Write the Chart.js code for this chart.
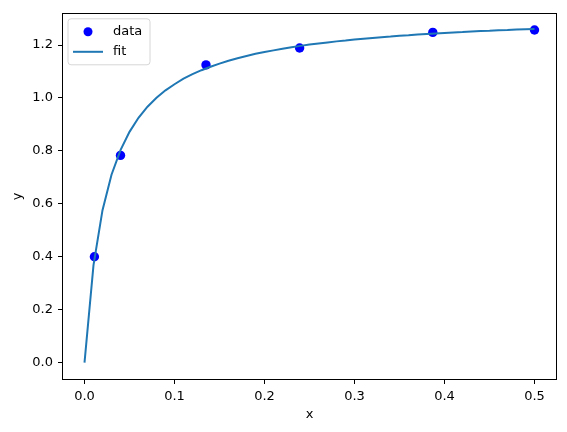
<!DOCTYPE html>
<html>
<head>
<meta charset="utf-8">
<script src="https://cdn.jsdelivr.net/npm/chart.js@4.4.0/dist/chart.umd.min.js"></script>
<style>
  html, body { margin: 0; padding: 0; background: #fff; }
  #wrap { width: 567px; height: 432px; }
</style>
</head>
<body>
<div id="wrap"><canvas id="chart"></canvas></div>
<script>
// measured points
const dataX = [0.011, 0.040, 0.135, 0.239, 0.387, 0.500];
const dataY = [0.400, 0.783, 1.125, 1.189, 1.248, 1.257];

// fitted curve, every 0.01
const fitX = [0.00, 0.01, 0.02, 0.03, 0.04, 0.05, 0.06, 0.07, 0.08, 0.09,
              0.10, 0.11, 0.12, 0.13, 0.14, 0.15, 0.16, 0.17, 0.18, 0.19,
              0.20, 0.21, 0.22, 0.23, 0.24, 0.25, 0.26, 0.27, 0.28, 0.29,
              0.30, 0.31, 0.32, 0.33, 0.34, 0.35, 0.36, 0.37, 0.38, 0.39,
              0.40, 0.41, 0.42, 0.43, 0.44, 0.45, 0.46, 0.47, 0.48, 0.49, 0.50];
const fitY = [0.000, 0.368, 0.576, 0.710, 0.803, 0.872, 0.925, 0.967, 1.001, 1.029,
              1.052, 1.073, 1.090, 1.105, 1.118, 1.130, 1.141, 1.150, 1.159, 1.167,
              1.174, 1.180, 1.186, 1.192, 1.197, 1.202, 1.206, 1.210, 1.214, 1.217,
              1.221, 1.224, 1.227, 1.230, 1.232, 1.235, 1.237, 1.240, 1.242, 1.244,
              1.246, 1.248, 1.249, 1.251, 1.253, 1.254, 1.256, 1.257, 1.259, 1.260, 1.261];

const xTicks = [0.0, 0.1, 0.2, 0.3, 0.4, 0.5];
const yTicks = [0.0, 0.2, 0.4, 0.6, 0.8, 1.0, 1.2];

const FONT = 'DejaVu Sans';
const FSIZE = 13;
const DOT = '#0000ff';
const LINE = '#1f77b4';

// Box around the plot area + matplotlib-like legend in upper left
const framePlugin = {
  id: 'frame',
  afterDraw(chart) {
    const { ctx, chartArea: a } = chart;
    ctx.save();
    ctx.strokeStyle = '#000';
    ctx.lineWidth = 1;
    const l = Math.round(a.left) + 0.5, t = Math.round(a.top) + 0.5;
    const rr = Math.round(a.right) - 0.5, b = Math.round(a.bottom) - 0.5;
    ctx.strokeRect(l, t, rr - l, b - t);

    // legend box
    const bx = a.left + 6, by = a.top + 6, bw = 82, bh = 46, r = 3;
    ctx.beginPath();
    ctx.moveTo(bx + r, by);
    ctx.arcTo(bx + bw, by, bx + bw, by + bh, r);
    ctx.arcTo(bx + bw, by + bh, bx, by + bh, r);
    ctx.arcTo(bx, by + bh, bx, by, r);
    ctx.arcTo(bx, by, bx + bw, by, r);
    ctx.closePath();
    ctx.fillStyle = 'rgba(255,255,255,0.8)';
    ctx.fill();
    ctx.strokeStyle = '#d6d6d6';
    ctx.stroke();

    ctx.fillStyle = DOT;
    ctx.beginPath();
    ctx.arc(bx + 20, by + 13, 4.5, 0, Math.PI * 2);
    ctx.fill();

    ctx.strokeStyle = LINE;
    ctx.lineWidth = 2;
    ctx.beginPath();
    ctx.moveTo(bx + 5, by + 33);
    ctx.lineTo(bx + 35, by + 33);
    ctx.stroke();

    ctx.fillStyle = '#000';
    ctx.font = FSIZE + 'px ' + FONT;
    ctx.textBaseline = 'middle';
    ctx.fillText('data', bx + 45, by + 13);
    ctx.fillText('fit', bx + 45, by + 33);
    ctx.restore();
  }
};

new Chart(document.getElementById('chart').getContext('2d'), {
  type: 'scatter',
  data: {
    datasets: [
      {
        label: 'data',
        data: dataX.map((x, i) => ({ x: x, y: dataY[i] })),
        backgroundColor: DOT,
        borderColor: DOT,
        pointRadius: 4.7,
        pointBorderWidth: 0,
        order: 2
      },
      {
        label: 'fit',
        data: fitX.map((x, i) => ({ x: x, y: fitY[i] })),
        showLine: true,
        borderColor: LINE,
        borderWidth: 2,
        pointRadius: 0,
        tension: 0,
        order: 1
      }
    ]
  },
  options: {
    responsive: true,
    maintainAspectRatio: false,
    animation: false,
    layout: { padding: { left: 6, top: 8, right: 10, bottom: 6 } },
    plugins: {
      legend: { display: false },
      tooltip: { enabled: false }
    },
    scales: {
      x: {
        type: 'linear',
        min: -0.025,
        max: 0.525,
        afterBuildTicks: (s) => { s.ticks = xTicks.map(v => ({ value: v })); },
        afterFit: (s) => { s.height = 46; },
        grid: { drawOnChartArea: false, drawTicks: true, tickLength: 4, color: '#000' },
        border: { display: false },
        ticks: {
          color: '#000',
          padding: 5,
          maxRotation: 0,
          font: { family: FONT, size: FSIZE },
          callback: (v) => Number(v).toFixed(1)
        },
        title: { display: true, text: 'x', color: '#000', font: { family: FONT, size: FSIZE } }
      },
      y: {
        type: 'linear',
        min: -0.066,
        max: 1.322,
        afterBuildTicks: (s) => { s.ticks = yTicks.map(v => ({ value: v })); },
        afterFit: (s) => { s.width = 56; },
        grid: { drawOnChartArea: false, drawTicks: true, tickLength: 4, color: '#000' },
        border: { display: false },
        ticks: {
          color: '#000',
          padding: 5,
          font: { family: FONT, size: FSIZE },
          callback: (v) => Number(v).toFixed(1)
        },
        title: { display: true, text: 'y', color: '#000', font: { family: FONT, size: FSIZE } }
      }
    }
  },
  plugins: [framePlugin]
});
</script>
</body>
</html>
